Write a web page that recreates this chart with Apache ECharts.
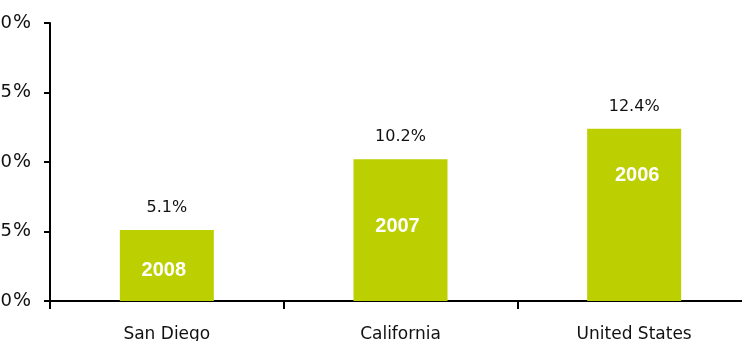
<!DOCTYPE html>
<html>
<head>
<meta charset="utf-8">
<script src="https://cdn.jsdelivr.net/npm/echarts@6/dist/echarts.min.js"></script>
<style>
html,body{margin:0;padding:0;background:#fff;}
#chart{width:742px;height:341px;}
</style>
</head>
<body>
<div id="chart"></div>
<script>
const categories = ['San Diego', 'California', 'United States'];
const values = [5.1, 10.2, 12.4];
const years = ['2008', '2007', '2006'];
const yTicks = [0, 5, 10, 15, 20];

const yearLabelOffsets = [[-3, 5], [-3, -4], [3, -39]];

const chart = echarts.init(document.getElementById('chart'));
const barColor = '#bccf00';

chart.setOption({
  animation: false,
  grid: { left: 50, top: 23, width: 701, height: 278, containLabel: false, outerBoundsMode: 'none' },
  xAxis: {
    type: 'category',
    data: categories,
    axisLine: { show: true, lineStyle: { color: '#000', width: 2 } },
    axisTick: { show: true, length: 8, lineStyle: { color: '#000', width: 2 } },
    axisLabel: { color: '#111', fontFamily: 'DejaVu Sans', fontSize: 17, margin: 25 }
  },
  yAxis: {
    type: 'value',
    min: yTicks[0],
    max: yTicks[yTicks.length - 1],
    interval: 5,
    axisLine: { show: true, lineStyle: { color: '#000', width: 2 } },
    axisTick: { show: true, length: 6, lineStyle: { color: '#000', width: 2 } },
    splitLine: { show: false },
    axisLabel: {
      color: '#111',
      margin: 19,
      formatter: v => '{v|' + v + '}{p|%}',
      rich: {
        v: { fontFamily: 'DejaVu Sans', fontSize: 18, color: '#111' },
        p: { fontFamily: 'DejaVu Sans', fontSize: 19, color: '#111', padding: [0, 0, 0, 1] }
      }
    }
  },
  series: [{
    type: 'bar',
    barWidth: 94,
    itemStyle: { color: barColor },
    data: values.map((v, i) => ({
      value: v,
      label: {
        show: true,
        position: 'inside',
        offset: yearLabelOffsets[i],
        formatter: years[i],
        color: '#fff',
        fontFamily: 'Liberation Sans',
        fontWeight: 'bold',
        fontSize: 20
      }
    }))
  }, {
    type: 'bar',
    barGap: '-100%',
    barWidth: 94,
    itemStyle: { color: 'transparent' },
    silent: true,
    data: values,
    label: {
      show: true,
      position: 'top',
      distance: 14,
      formatter: p => p.value.toFixed(1) + '%',
      color: '#111',
      fontFamily: 'DejaVu Sans',
      fontSize: 16
    }
  }]
});
</script>
</body>
</html>
